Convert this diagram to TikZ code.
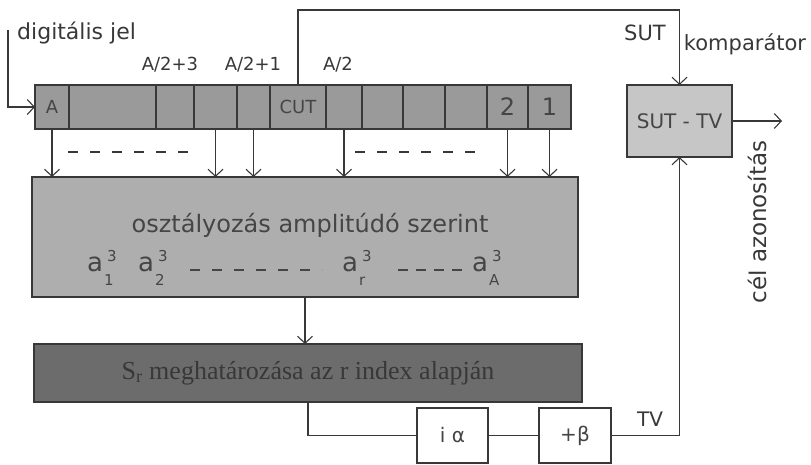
\documentclass[tikz,border=0pt]{standalone}
\usepackage{fontspec}
\setmainfont{DejaVu Sans}
\newfontfamily\serifjel{Liberation Serif}
\usetikzlibrary{arrows.meta,positioning}
\usepackage{xcolor}
\definecolor{vonal}{HTML}{383838}
\definecolor{szoveg}{HTML}{454545}
\definecolor{regfill}{HTML}{9A9A9A}
\definecolor{nagyfill}{HTML}{AEAEAE}
\definecolor{sotetfill}{HTML}{6C6C6C}
\definecolor{kompfill}{HTML}{C6C6C6}
\newcommand{\ampsym}[1]{a\hspace{1pt}\rlap{\raisebox{-14pt}{\fontsize{15}{15}\selectfont #1}}\hspace{3pt}\raisebox{10pt}{\fontsize{15}{15}\selectfont 3}}

\begin{document}
\begin{tikzpicture}[x=1pt, y=-1pt,
  font=\fontsize{18}{20}\selectfont,
  cell/.style={draw=vonal, fill=regfill, line width=1.1pt, minimum height=44pt, inner sep=0pt, outer sep=0pt, text=szoveg},
  box/.style={draw=vonal, line width=1.1pt, inner sep=0pt, outer sep=0pt, text=szoveg},
  lbl/.style={inner sep=0pt, text=vonal},
  wire/.style={draw=vonal, line width=1.1pt},
  arr/.style={wire, -{Straight Barb[length=7pt,width=15pt]}},
  dashline/.style={draw=vonal, line width=1.1pt, dash pattern=on 10pt off 12pt}
]
\useasboundingbox (0,0) rectangle (811,464);
\node[cell, minimum width=34pt, anchor=west] (cA) at (35,107) {A};
\node[cell, minimum width=87pt, right=0pt of cA] (c2) {};
\node[cell, minimum width=38pt, right=0pt of c2] (c3) {};
\node[cell, minimum width=43pt, right=0pt of c3] (c4) {};
\node[cell, minimum width=33pt, right=0pt of c4] (c5) {};
\node[cell, minimum width=56pt, right=0pt of c5] (cut) {CUT};
\node[cell, minimum width=36pt, right=0pt of cut] (c7) {};
\node[cell, minimum width=41pt, right=0pt of c7] (c8) {};
\node[cell, minimum width=42pt, right=0pt of c8] (c9) {};
\node[cell, minimum width=42pt, right=0pt of c9] (c10) {};
\node[cell, minimum width=41pt, right=0pt of c10, font=\fontsize{24}{24}\selectfont] (cket) {2};
\node[cell, minimum width=43pt, right=0pt of cket, font=\fontsize{24}{24}\selectfont] (cegy) {1};
\node[lbl] (l3) at (170,65) {A/2+3};
\node[lbl] (l1) at (253,65) {A/2+1};
\node[lbl] (lh) at (338,65) {A/2};
\node[lbl, anchor=west, font=\fontsize{22}{22}\selectfont] (dig) at (17,33) {digitális jel};
\coordinate (be) at (8,30);
\draw[arr] (be) |- (cA.west);

\node[box, fill=nagyfill, minimum width=546pt, minimum height=120pt] (oszt) at (305,237) {};
\node[lbl, text=szoveg, font=\fontsize{24}{24}\selectfont] (cim) at (310,225) {osztályozás amplitúdó szerint};
\node[lbl, text=szoveg, anchor=base west, font=\fontsize{26}{26}\selectfont] (a1) at (87,271) {\ampsym{1}};
\node[lbl, text=szoveg, anchor=base west, font=\fontsize{26}{26}\selectfont] (a2) at (138,271) {\ampsym{2}};
\node[lbl, text=szoveg, anchor=base west, font=\fontsize{26}{26}\selectfont] (ar) at (342,271) {\ampsym{r}};
\node[lbl, text=szoveg, anchor=base west, font=\fontsize{26}{26}\selectfont] (aA) at (472,271) {\ampsym{A}};
\draw[dashline, draw=szoveg] (190,270) -- (322,270);
\draw[dashline, draw=szoveg, dash pattern=on 10pt off 8pt] (398,270) -- (462,270);

\foreach \c in {cA,c4,c5,c7,cket,cegy}
  \draw[arr] (\c.south) -- (\c.south |- oszt.north);
\draw[dashline] (68,152) -- (195,152);
\draw[dashline] (355,152) -- (485,152);

\node[box, fill=sotetfill, minimum width=548pt, minimum height=58pt, text=vonal, font=\serifjel\fontsize{26}{26}\selectfont] (sr) at (308,373) {S\textsubscript{r} meghatározása az r index alapján};
\draw[arr] (oszt.south) -- (oszt.south |- sr.north);

\node[box, fill=kompfill, minimum width=105pt, minimum height=72pt, font=\fontsize{20}{20}\selectfont] (komp) at (679.5,121) {SUT - TV};
\node[box, fill=white, minimum width=71pt, minimum height=55pt, font=\fontsize{20}{20}\selectfont] (ia) at (452.5,435.5) {i α};
\node[box, fill=white, minimum width=72pt, minimum height=55pt, font=\fontsize{20}{20}\selectfont] (pb) at (575,435.5) {+β};
\draw[wire] (sr.south) |- (ia.west);
\draw[wire] (ia) -- (pb);
\draw[arr] (pb.east) -| (komp.south);
\node[lbl, font=\fontsize{20}{20}\selectfont] (tv) at (650,419) {TV};

\coordinate (felso) at (0,10);
\draw[arr] (cut.north) -- (cut.north |- felso) -| (komp.north);
\node[lbl, font=\fontsize{21}{21}\selectfont] (sut) at (645,33) {SUT};
\node[lbl, font=\fontsize{21}{21}\selectfont] (kompl) at (745,44) {komparátor};
\coordinate (ki) at (782,121);
\draw[arr] (komp.east) -- (ki);
\node[lbl, rotate=90, font=\fontsize{23}{23}\selectfont] (cel) at (757,222) {cél azonosítás};
\end{tikzpicture}
\end{document}
